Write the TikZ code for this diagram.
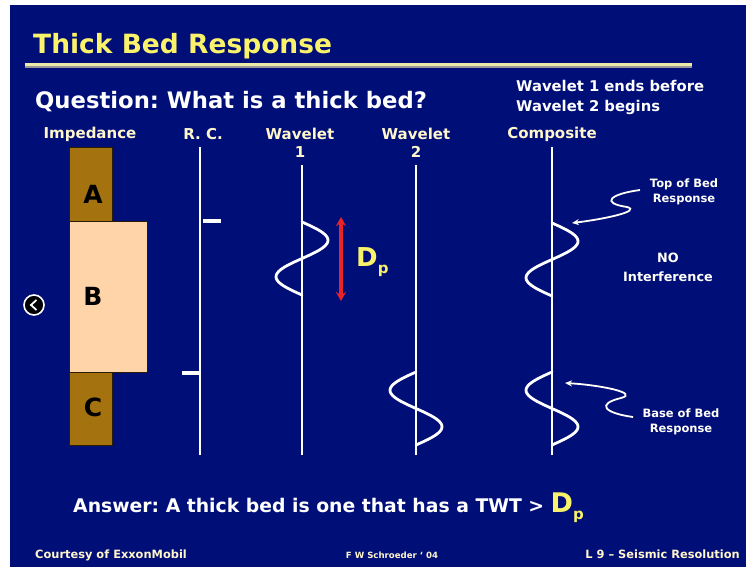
\documentclass[tikz,border=0pt]{standalone}
\usepackage{fontspec}
\setmainfont{DejaVu Sans}
\frenchspacing
\usepackage{tikz}
\usetikzlibrary{arrows.meta,positioning}
\definecolor{slidebg}{HTML}{000E78}
\definecolor{titlex}{HTML}{FAF26A}
\definecolor{creamx}{HTML}{FFF6CC}
\definecolor{ochre}{HTML}{A4720E}
\definecolor{peach}{HTML}{FFD4A8}
\definecolor{redx}{HTML}{E8242A}
\definecolor{rulex}{HTML}{EEEAA8}
\tikzset{
  trace/.style={white,line width=2.2pt},
  wig/.style={white,line width=2.8pt,line cap=round},
  head/.style={font=\bfseries\fontsize{15}{17}\selectfont,text=creamx,inner sep=0pt},
  layer/.style={draw=black!75!ochre,thin},
  lbl/.style={font=\bfseries\fontsize{25}{28}\selectfont,text=black,inner sep=0pt},
  note/.style={font=\bfseries\fontsize{11.5}{15}\selectfont,text=white!85!creamx,align=center,inner sep=0pt},
  squig/.style={white!85!creamx,line width=1.8pt,-{Stealth[length=7pt,width=6pt]}},
  foot/.style={font=\bfseries\fontsize{11.4}{13}\selectfont,text=creamx,inner sep=0pt}
}
% one sine period hanging down from (x,ytop), sign of #3 gives polarity
\newcommand{\wvlt}[3]{\draw[wig] plot[domain=0:1,samples=41,smooth,variable=\ph] ({#1+#3*sin(360*\ph)},{#2+\ph*73});}

\begin{document}
\begin{tikzpicture}[x=1pt,y=-1pt]
\useasboundingbox (0,0) rectangle (746,567);
\fill[white] (0,0) rectangle (746,567);
\fill[slidebg] (10,5) rectangle (746,567);
% title and rule
\node[anchor=base west,inner sep=0pt,text=titlex,font=\bfseries\fontsize{26.5}{30}\selectfont] (title) at (33,54) {Thick Bed Response};
\draw[rulex,line width=2.6pt] (25,64.5) -- (692,64.5);
\draw[gray!80,line width=1.4pt] (25,67.2) -- (692,67.2);
\node[anchor=base west,inner sep=0pt,text=white,font=\bfseries\fontsize{22.7}{26}\selectfont] (quest) at (35,109) {Question: What is a thick bed?};
\node[anchor=north west,inner sep=0pt,text=white,align=left,font=\bfseries\fontsize{14.8}{20}\selectfont] (cond) at (516,80) {Wavelet 1 ends before\\Wavelet 2 begins};
% column heads
\foreach \hx/\hname [count=\i] in {90/Impedance,203/R. C.,300/Wavelet,416/Wavelet,552/Composite}
  \node[head] (hd\i) at (\hx,134) {\hname};
\node[head] (n1) at (300,152) {1};
\node[head] (n2) at (416,152) {2};
% impedance column
\draw[layer,fill=ochre] (69,147) rectangle (112,221);
\draw[layer,fill=peach] (69,221) rectangle (147,372);
\draw[layer,fill=ochre] (69,372) rectangle (112,445);
\node[lbl] (la) at (93,194) {A};
\node[lbl] (lb) at (93,296) {B};
\node[lbl] (lc) at (93,407) {C};
% reflection coefficients
\draw[trace] (200,147) -- (200,455);
\draw[white,line width=3.5pt] (203,221) -- (221,221);
\draw[white,line width=3.5pt] (182,373) -- (200,373);
% wavelets
\draw[trace] (302,165) -- (302,455);
\wvlt{302}{222}{26}
\draw[trace] (416,165) -- (416,455);
\wvlt{416}{372}{-26}
\coordinate (dtop) at (341,217);
\coordinate (dbot) at (341,301);
\draw[redx,line width=3.2pt,{Stealth[length=9pt,width=10pt]}-{Stealth[length=9pt,width=10pt]}] (dtop) -- (dbot);
\node[anchor=west,inner sep=0pt,text=titlex,font=\bfseries\fontsize{26}{28}\selectfont] (dp) at (356,262) {D\raisebox{-0.28em}{\fontsize{15}{15}\selectfont p}};
% composite
\draw[trace] (552,147) -- (552,455);
\wvlt{552}{223}{26}
\wvlt{552}{372}{-26}
\node[note] (toplbl) at (684,192) {Top of Bed\\Response};
\node[note,font=\bfseries\fontsize{12.8}{19}\selectfont] (nolbl) at (668,267) {NO\\Interference};
\node[note] (baselbl) at (681,422) {Base of Bed\\Response};
\coordinate (topgo) at (640,190);
\coordinate (toptip) at (572,223);
\coordinate (basego) at (633,417);
\coordinate (basetip) at (565,383);
\draw[squig] (topgo) .. controls (610,194) and (600,203) .. (627,207) .. controls (642,211) and (605,219) .. (toptip);
\draw[squig] (basego) .. controls (604,413) and (596,404) .. (621,398) .. controls (640,393) and (600,385) .. (basetip);
% back button
\node[circle,draw=white,fill=black,line width=1.6pt,minimum size=20pt,inner sep=0pt] (back) at (34,305) {};
\draw[white,line width=1.8pt] ([shift={(2.5,-5)}]back.center) -- ([shift={(-3,0)}]back.center) -- ([shift={(2.5,5)}]back.center);
% answer and footer
\node[anchor=base west,inner sep=0pt,text=white,font=\bfseries\fontsize{18.8}{22}\selectfont] (answer) at (73,512) {Answer: A thick bed is one that has a TWT >~{\color{titlex}\fontsize{27}{28}\selectfont D\raisebox{-0.28em}{\fontsize{15}{15}\selectfont p}}};
\node[foot,anchor=base west] (court) at (35,558) {Courtesy of ExxonMobil};
\node[foot,font=\bfseries\fontsize{8.6}{10}\selectfont] (auth) at (392,555) {F W Schroeder ‘ 04};
\node[foot,anchor=base east] (lect) at (740,558) {L 9 – Seismic Resolution};
\end{tikzpicture}
\end{document}
